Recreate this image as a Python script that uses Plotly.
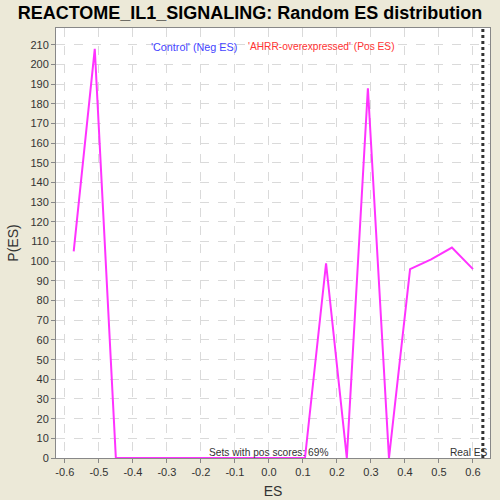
import plotly.graph_objects as go

# random ES distribution (binned)
es_values = [-0.574, -0.512, -0.450, -0.389, -0.327, -0.265, -0.203, -0.141, -0.080, -0.018,
             0.044, 0.106, 0.168, 0.229, 0.291, 0.353, 0.415, 0.477, 0.538, 0.600]
p_es = [105, 208, 0, 0, 0, 0, 0, 0, 0, 0,
        0, 0, 99, 0, 188, 0, 96, 101, 107, 96]
real_es = 0.629
x_ticks = [-0.6, -0.5, -0.4, -0.3, -0.2, -0.1, 0.0, 0.1, 0.2, 0.3, 0.4, 0.5, 0.6]
y_ticks = list(range(0, 220, 10))

FONT = "Liberation Sans, Arial"

fig = go.Figure()

fig.add_trace(go.Scatter(
    x=es_values, y=p_es, mode="lines",
    line={"color": "#FF33FF", "width": 2},
    showlegend=False, hoverinfo="skip",
))

fig.add_shape(type="line", x0=real_es, x1=real_es, y0=0, y1=1, yref="paper",
              line={"color": "#333333", "width": 3, "dash": "dot"})

# class labels
fig.add_annotation(x=-0.219, y=0.975, xref="x", yref="paper",
                   text="'Control' (Neg ES)", showarrow=False,
                   font={"family": FONT, "size": 10.8, "color": "#4444FF"})
fig.add_annotation(x=0.156, y=0.975, xref="x", yref="paper",
                   text="'AHRR-overexpressed' (Pos ES)", showarrow=False,
                   font={"family": FONT, "size": 10.2, "color": "#FF3333"})
fig.add_annotation(x=0.0, y=0, xref="x", yref="y", yanchor="bottom", yshift=-2,
                   text="Sets with pos scores: 69%", showarrow=False,
                   font={"family": FONT, "size": 10.2, "color": "#333333"})
fig.add_annotation(x=1, y=0, xref="paper", yref="y", xanchor="right", yanchor="bottom", yshift=-2,
                   text="Real ES", showarrow=False,
                   font={"family": FONT, "size": 10.2, "color": "#333333"})

axis_common = dict(
    showgrid=True, gridcolor="#DADADA", griddash="dash", gridwidth=1,
    showline=True, linecolor="#888888", mirror=True, zeroline=False,
    ticks="outside", ticklen=4, tickcolor="#888888", automargin=False,
    tickfont={"family": FONT, "size": 11, "color": "#333333"},
)

fig.update_xaxes(range=[-0.626, 0.65], tickvals=x_ticks,
                 ticktext=["%.1f" % v for v in x_ticks],
                 title={"text": "ES", "font": {"family": FONT, "size": 14, "color": "#333333"},
                        "standoff": 8},
                 **axis_common)
fig.update_yaxes(range=[0, 218.6], tickvals=y_ticks,
                 title={"text": "P(ES)", "font": {"family": FONT, "size": 14, "color": "#333333"},
                        "standoff": 8},
                 **axis_common)

fig.update_layout(
    title={"text": "<b>REACTOME_IL1_SIGNALING: Random ES distribution</b>",
           "x": 0.5, "xref": "container", "xanchor": "center",
           "y": 0.975, "yref": "container", "yanchor": "middle",
           "font": {"family": FONT, "size": 18, "color": "black"}},
    width=500, height=500,
    margin={"l": 56, "r": 10, "t": 28, "b": 42},
    paper_bgcolor="#ECE9D8", plot_bgcolor="white",
    showlegend=False,
)

fig.write_html("out.html", config={"displayModeBar": False},
               post_script="document.body.style.margin='0';")
